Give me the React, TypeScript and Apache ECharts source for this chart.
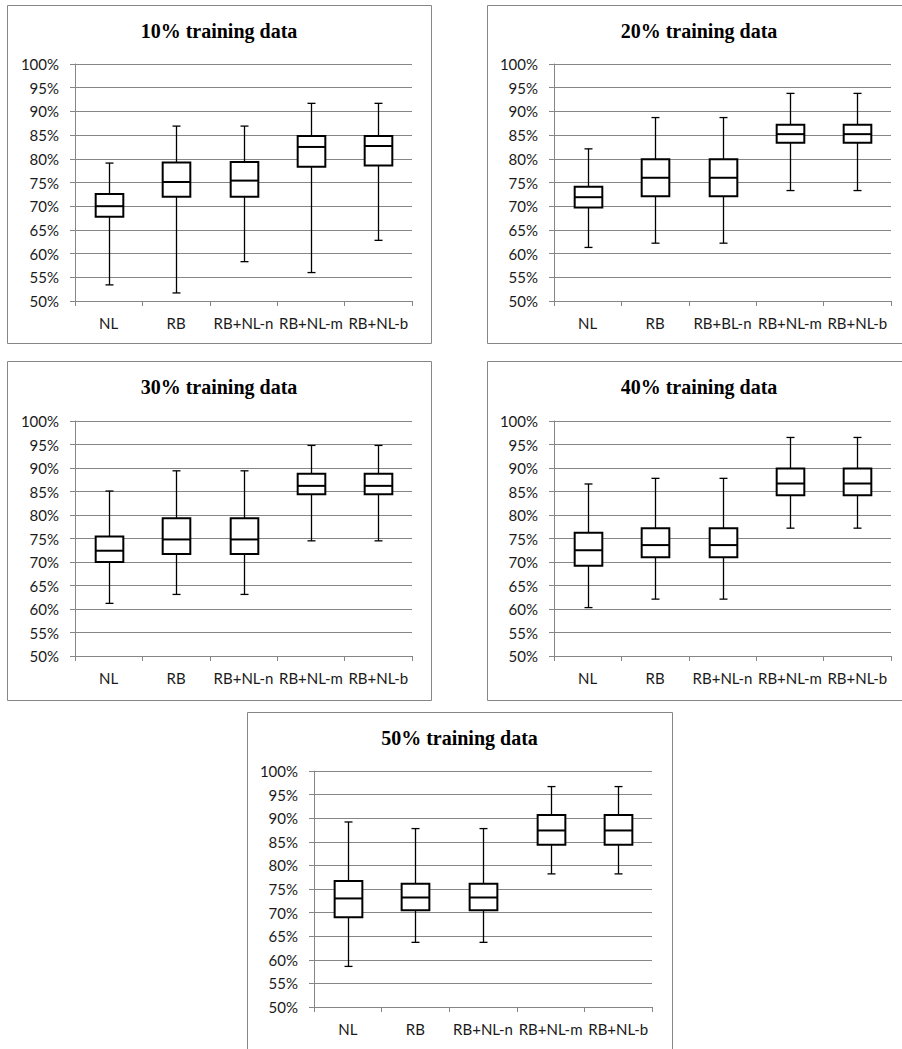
import React, { useEffect, useRef } from "react";
import * as echarts from "echarts";

// Categories (panel 2 has the "RB+BL-n" label as in the original)
const categoriesA = ["NL", "RB", "RB+NL-n", "RB+NL-m", "RB+NL-b"];
const categoriesB = ["NL", "RB", "RB+BL-n", "RB+NL-m", "RB+NL-b"];

// Each entry: [min, Q1, median, Q3, max] in %
const box10 = [
  [53.4, 67.8, 70.0, 72.6, 79.1],
  [51.7, 72.0, 75.1, 79.2, 86.9],
  [58.3, 72.0, 75.4, 79.3, 86.9],
  [56.0, 78.3, 82.5, 84.8, 91.7],
  [62.8, 78.6, 82.7, 84.8, 91.7],
];
const box20 = [
  [61.3, 69.7, 71.9, 74.1, 82.1],
  [62.2, 72.1, 76.0, 79.9, 88.7],
  [62.2, 72.1, 76.0, 79.9, 88.7],
  [73.3, 83.4, 85.2, 87.2, 93.8],
  [73.3, 83.4, 85.2, 87.2, 93.8],
];
const box30 = [
  [61.2, 70.0, 72.4, 75.4, 85.1],
  [63.1, 71.7, 74.8, 79.3, 89.4],
  [63.1, 71.7, 74.8, 79.3, 89.4],
  [74.5, 84.4, 86.2, 88.8, 94.8],
  [74.5, 84.4, 86.2, 88.8, 94.8],
];
const box40 = [
  [60.3, 69.2, 72.5, 76.2, 86.6],
  [62.1, 71.0, 73.6, 77.2, 87.8],
  [62.1, 71.0, 73.6, 77.2, 87.8],
  [77.2, 84.2, 86.7, 89.9, 96.5],
  [77.2, 84.2, 86.7, 89.9, 96.5],
];
const box50 = [
  [58.6, 69.0, 73.0, 76.7, 89.2],
  [63.7, 70.5, 73.2, 76.1, 87.8],
  [63.7, 70.5, 73.2, 76.1, 87.8],
  [78.2, 84.4, 87.4, 90.7, 96.7],
  [78.2, 84.4, 87.4, 90.7, 96.7],
];

const titles = [
  "10% training data",
  "20% training data",
  "30% training data",
  "40% training data",
  "50% training data",
];

const yMin = 50;
const yMax = 100;
const yStep = 5;

const GRAY = "#868686";
const LABEL_FONT = "Lato";

// Layout of the five panels (page coordinates)
const panels = [
  { bx: 7, by: 5, bw: 424, bh: 338, gl: 75, gt: 64, gw: 337, gh: 237, cats: categoriesA, data: box10 },
  { bx: 487, by: 5, bw: 424, bh: 338, gl: 554, gt: 64, gw: 337, gh: 237, cats: categoriesB, data: box20 },
  { bx: 7, by: 361, bw: 424, bh: 339, gl: 75, gt: 421, gw: 337, gh: 235, cats: categoriesA, data: box30 },
  { bx: 487, by: 361, bw: 424, bh: 339, gl: 554, gt: 421, gw: 337, gh: 235, cats: categoriesA, data: box40 },
  { bx: 247, by: 712, bw: 425, bh: 345, gl: 314, gt: 771, gw: 338, gh: 236, cats: categoriesA, data: box50 },
];

function renderBox(params: any, api: any) {
  const idx = api.value(0);
  const vMin = api.value(1);
  const q1 = api.value(2);
  const med = api.value(3);
  const q3 = api.value(4);
  const vMax = api.value(5);
  const pMin = api.coord([idx, vMin]);
  const pQ1 = api.coord([idx, q1]);
  const pMed = api.coord([idx, med]);
  const pQ3 = api.coord([idx, q3]);
  const pMax = api.coord([idx, vMax]);
  const band = api.size([1, 0])[0];
  const bw = band * 0.41;
  const cx = Math.round(pMed[0]) + 0.5;
  const capW = 8;
  const thin = { stroke: "#000", lineWidth: 1.3 };
  const thick = { stroke: "#000", lineWidth: 2 };
  return {
    type: "group",
    children: [
      { type: "line", shape: { x1: cx, y1: pMax[1], x2: cx, y2: pQ3[1] }, style: thin },
      { type: "line", shape: { x1: cx, y1: pQ1[1], x2: cx, y2: pMin[1] }, style: thin },
      { type: "line", shape: { x1: cx - capW / 2, y1: pMax[1], x2: cx + capW / 2, y2: pMax[1] }, style: thin },
      { type: "line", shape: { x1: cx - capW / 2, y1: pMin[1], x2: cx + capW / 2, y2: pMin[1] }, style: thin },
      {
        type: "rect",
        shape: { x: cx - bw / 2, y: pQ3[1], width: bw, height: pQ1[1] - pQ3[1] },
        style: { fill: "#fff", stroke: "#000", lineWidth: 2 },
      },
      { type: "line", shape: { x1: cx - bw / 2, y1: pMed[1], x2: cx + bw / 2, y2: pMed[1] }, style: thick },
    ],
  };
}

export default function App() {
  const ref = useRef<HTMLDivElement>(null);
  useEffect(() => {
    if (!ref.current) return;
    const chart = echarts.init(ref.current, undefined, { renderer: "svg" });

    const grid = panels.map((p) => ({ left: p.gl, top: p.gt, width: p.gw, height: p.gh, containLabel: false }));
    const xAxis = panels.map((p, i) => ({
      type: "category",
      gridIndex: i,
      data: p.cats,
      boundaryGap: true,
      axisLine: { show: true, lineStyle: { color: GRAY, width: 1 } },
      axisTick: { show: true, length: 5, alignWithLabel: false, lineStyle: { color: GRAY } },
      axisLabel: { color: "#1a1a1a", fontFamily: LABEL_FONT, fontSize: 15, margin: 14, interval: 0 },
      splitLine: { show: false },
    }));
    const yAxis = panels.map((p, i) => ({
      type: "value",
      gridIndex: i,
      min: yMin,
      max: yMax,
      interval: yStep,
      axisLine: { show: true, lineStyle: { color: GRAY, width: 1 } },
      axisTick: { show: true, length: 5, lineStyle: { color: GRAY } },
      axisLabel: {
        color: "#1a1a1a",
        fontFamily: LABEL_FONT,
        fontSize: 15,
        margin: 16,
        formatter: (v: number) => `${v}%`,
      },
      splitLine: { show: true, lineStyle: { color: GRAY, width: 1 } },
    }));
    const series = panels.map((p, i) => ({
      type: "custom",
      name: titles[i],
      xAxisIndex: i,
      yAxisIndex: i,
      renderItem: renderBox,
      encode: { x: 0, y: [1, 2, 3, 4, 5] },
      data: p.data.map((d, k) => [k, ...d]),
      z: 10,
    }));
    const graphic: any[] = [];
    panels.forEach((p, i) => {
      graphic.push({
        type: "rect",
        shape: { x: p.bx + 0.5, y: p.by + 0.5, width: p.bw, height: p.bh },
        style: { fill: "none", stroke: GRAY, lineWidth: 1 },
        silent: true,
      });
      graphic.push({
        type: "text",
        x: p.bx + p.bw / 2,
        y: p.by + 26,
        style: {
          text: titles[i],
          font: "bold 20px 'Liberation Serif', 'Times New Roman', serif",
          fill: "#000",
          align: "center",
          verticalAlign: "middle",
        },
        silent: true,
      });
    });

    chart.setOption({
      animation: false,
      backgroundColor: "#fff",
      grid,
      xAxis,
      yAxis,
      series,
      graphic,
    });
    return () => chart.dispose();
  }, []);
  return (
    <div
      ref={ref}
      style={{ position: "absolute", left: 0, top: 0, width: 902, height: 1049 }}
    />
  );
}
